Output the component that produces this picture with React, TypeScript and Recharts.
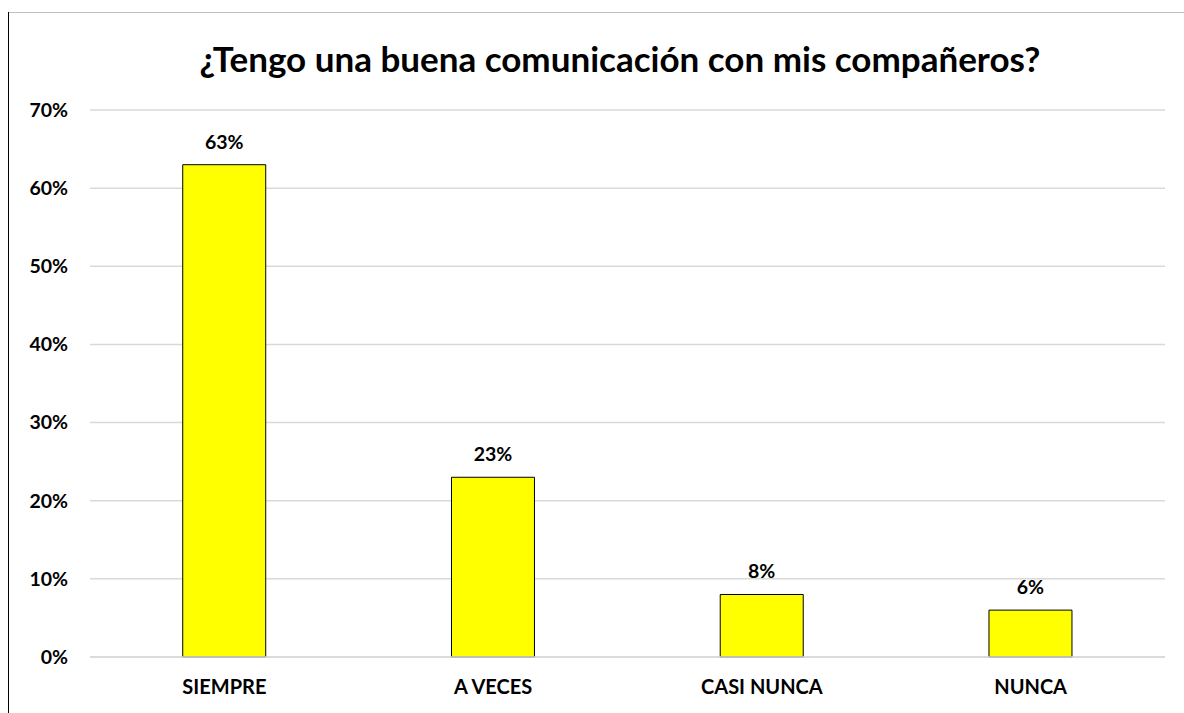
import { BarChart, Bar, XAxis, YAxis, CartesianGrid, LabelList } from 'recharts';

const categories = ['SIEMPRE', 'A VECES', 'CASI NUNCA', 'NUNCA'];
const percentages = [63, 23, 8, 6];
const yTicks = [0, 10, 20, 30, 40, 50, 60, 70];

const data = categories.map((name, i) => ({ name, value: percentages[i] }));

const FONT = 'Lato, "Liberation Sans", sans-serif';

export default function App() {
  return (
    <div style={{ position: 'fixed', left: 0, top: 0, width: 1184, height: 713, background: '#fff', fontFamily: FONT }}>
      <div style={{ position: 'absolute', left: 8, top: 12, width: 1176, height: 1, background: '#bfbfbf' }} />
      <div style={{ position: 'absolute', left: 8, top: 12, width: 1, height: 701, background: '#000' }} />
      <svg width={1184} height={100} style={{ position: 'absolute', left: 0, top: 0 }}>
        <text x={620} y={72} textAnchor="middle" fontSize={35} fontWeight={700} fill="#000" fontFamily={FONT}>
          ¿Tengo una buena comunicación con mis compañeros?
        </text>
      </svg>
      <BarChart
        width={1184}
        height={713}
        data={data}
        margin={{ top: 110, right: 19, bottom: 26, left: 10 }}
        barCategoryGap="34.5%"
        style={{ position: 'absolute', left: 0, top: 0 }}
      >
        <CartesianGrid vertical={false} stroke="#d9d9d9" strokeWidth={1.5} />
        <XAxis
          dataKey="name"
          height={30}
          axisLine={{ stroke: '#d9d9d9', strokeWidth: 1.5 }}
          tickLine={false}
          tickSize={0}
          tickMargin={23}
          tick={{ fontSize: 20, fontWeight: 700, fill: '#000', fontFamily: FONT }}
        />
        <YAxis
          width={80}
          domain={[0, 70]}
          ticks={yTicks}
          interval={0}
          axisLine={false}
          tickLine={false}
          tickSize={0}
          tickMargin={22}
          tickFormatter={(v: number) => `${v}%`}
          tick={{ fontSize: 19.5, fontWeight: 700, fill: '#000', fontFamily: FONT }}
        />
        <Bar dataKey="value" fill="#ffff00" stroke="#000" strokeWidth={1} isAnimationActive={false}>
          <LabelList
            dataKey="value"
            position="top"
            offset={16}
            formatter={(v: number) => `${v}%`}
            style={{ fontSize: 19.5, fontWeight: 700, fill: '#000', fontFamily: FONT }}
          />
        </Bar>
      </BarChart>
    </div>
  );
}
